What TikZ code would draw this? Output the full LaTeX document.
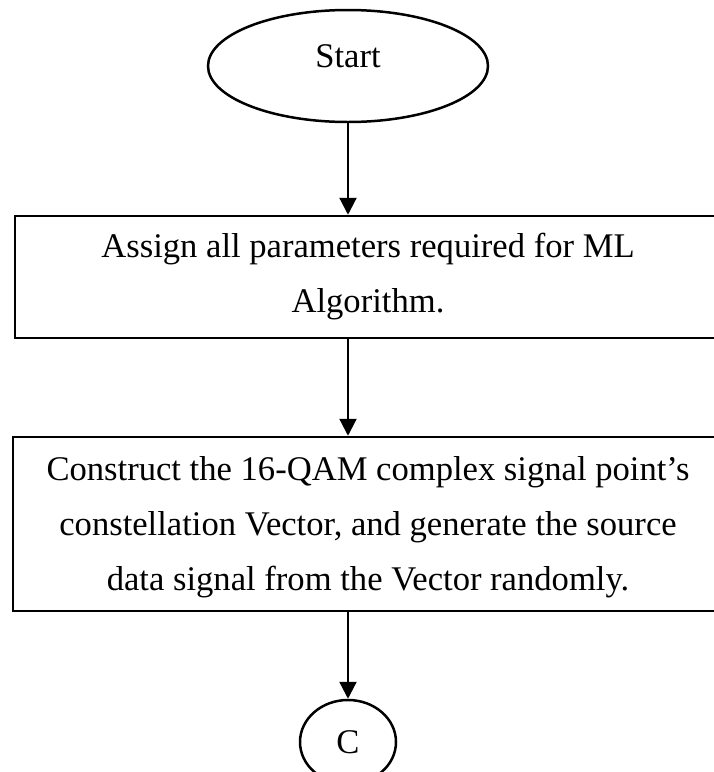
\documentclass[tikz,border=0pt]{standalone}
\usepackage{fontspec}
\setmainfont{Liberation Serif}
\usetikzlibrary{shapes.geometric,arrows.meta}
\begin{document}
\begin{tikzpicture}[x=1pt,y=-1pt,
  terminal/.style={ellipse, draw, line width=2.5pt, inner sep=0pt},
  stepbox/.style={rectangle, draw, line width=2.5pt, align=center, inner sep=0pt},
  link/.style={line width=2.2pt, -{Triangle[length=17pt,width=17pt]}},
  font=\fontsize{34.6}{55}\selectfont]
\useasboundingbox (0,0) rectangle (714,772);
\clip (0,0) rectangle (714,772);

% terminal and process steps
\node[terminal, minimum width=280pt, minimum height=112pt, text depth=20pt]
  (start) at (348,66) {Start};
\node[stepbox, minimum width=706pt, minimum height=122pt]
  (assign) at (368,277) {Assign all parameters required for ML\\Algorithm.};
\node[stepbox, minimum width=710pt, minimum height=174pt, text depth=1pt]
  (construct) at (368,524) {Construct the 16-QAM complex signal point’s\\constellation Vector, and generate the source\\data signal from the Vector randomly.};
\node[terminal, minimum width=96pt, minimum height=84pt]
  (conn) at (348,742) {C};

% flow arrows
\draw[link] (start.south) -- (start.south |- assign.north);
\draw[link] (assign.south -| start.south) -- (start.south |- construct.north);
\draw[link] (construct.south -| conn.north) -- (conn.north);
\end{tikzpicture}
\end{document}
